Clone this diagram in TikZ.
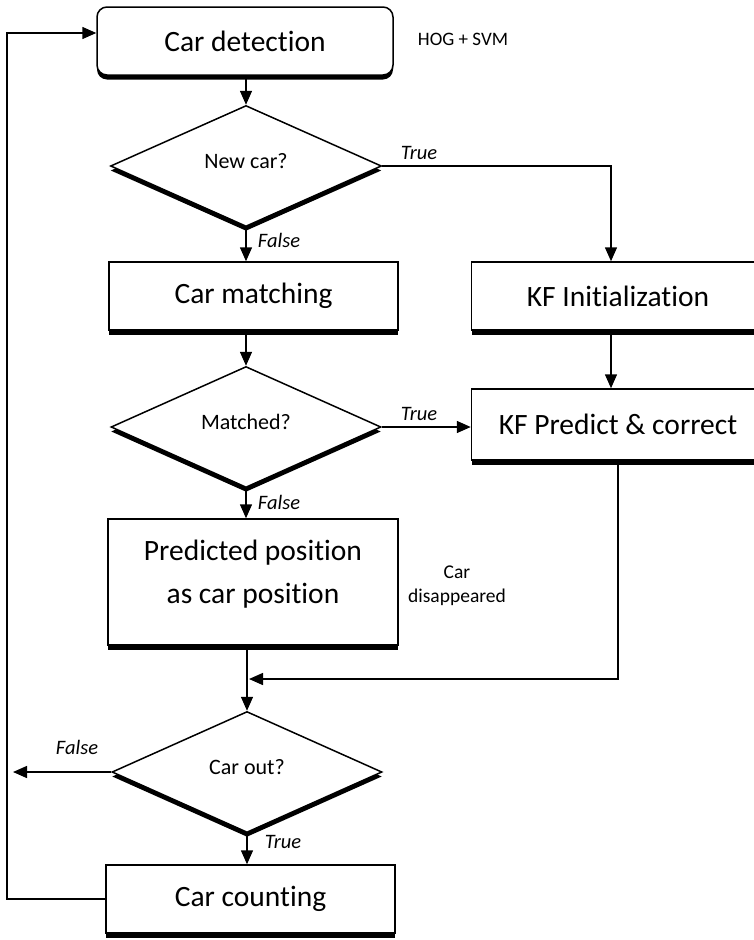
\documentclass[tikz,border=0pt]{standalone}
\usepackage{fontspec}
\setmainfont{Carlito}[Ligatures=NoCommon]
\usetikzlibrary{arrows.meta,shapes.geometric,shadows}
\tikzset{
  flow/.style={draw, line width=1.5pt, fill=white,
    drop shadow={shadow xshift=0pt, shadow yshift=-4.5pt, fill=black, opacity=1}},
  procbox/.style={flow, rectangle, minimum width=290pt, minimum height=68pt,
    inner sep=0pt, align=center, font=\fontsize{29.5}{43}\selectfont},
  startbox/.style={procbox, rounded corners=10pt},
  decide/.style={flow, diamond, minimum width=271pt, minimum height=121pt,
    inner sep=0pt, text depth=10pt, font=\fontsize{22}{26}\selectfont},
  wire/.style={line width=1.5pt},
  flowarrow/.style={wire, -{Triangle[length=14pt,width=12pt]}},
  branch/.style={font=\itshape\fontsize{20.5}{24}\selectfont},
  note/.style={align=center, font=\fontsize{19.5}{24}\selectfont}
}
\begin{document}
\begin{tikzpicture}[x=1pt,y=-1pt]
    \useasboundingbox (0,0) rectangle (754,940);
    % left column
    \node[startbox, minimum width=296pt] (det) at (245,41) {Car detection}; % detection
    \node[note, font=\fontsize{19}{22}\selectfont] (hog) at (463,39) {HOG + SVM}; % detector label
    \node[decide] (newcar) at (246,166) {New car?}; % first test
    \node[procbox, minimum width=289pt] (match) at (253.5,296) {Car matching};
    \node[decide, minimum width=270pt] (matched) at (246,427) {Matched?}; % second test
    \node[procbox, minimum height=126pt, text depth=20pt] (pred) at (253,582) {Predicted position\\as car position};
    \node[decide, minimum width=270pt] (carout) at (247,772) {Car out?}; % third test
    \node[procbox, minimum width=289pt] (count) at (250.5,899) {Car counting};
    % right column
    \node[procbox, minimum width=293pt] (kfinit) at (618,296) {KF Initialization};
    \node[procbox, minimum width=293pt, minimum height=71pt] (kfpc) at (618,424.5) {KF Predict \& correct};
    \node[note] (gone) at (457,586) {Car\\disappeared}; % lost track label
    % branch labels
    \node[branch] (yes1) at (419,153) {True};
    \node[branch] (no1) at (279,240) {False};
    \node[branch] (yes2) at (419,414) {True};
    \node[branch] (no2) at (279,502) {False};
    \node[branch] (no3) at (77,747) {False};
    \node[branch] (yes3) at (283,842) {True};
    % free ends
    \coordinate (join) at (249,679);
    \coordinate (lost) at (13,772);
    \coordinate (back) at (7,33);
    % connectors
    \draw[flowarrow] (det.south -| newcar.north) -- (newcar.north);
    \draw[flowarrow] (newcar.east) -| ([xshift=-7pt]kfinit.north);
    \draw[flowarrow] (newcar.south) -- (newcar.south |- match.north);
    \draw[flowarrow] (match.south -| matched.north) -- (matched.north);
    \draw[flowarrow] ([xshift=-7pt]kfinit.south) -- ([xshift=-7pt]kfpc.north);
    \draw[flowarrow] (matched.east) -- (matched.east -| kfpc.west);
    \draw[flowarrow] (matched.south) -- (matched.south |- pred.north);
    \draw[flowarrow] (pred.south -| carout.north) -- (carout.north);
    \draw[flowarrow] (kfpc.south) |- (join); % track lost
    \draw[flowarrow] (carout.south) -- (carout.south |- count.north);
    \draw[flowarrow] (carout.west) -- (lost);
    \draw[flowarrow] (count.west) -| (back) -- ([yshift=8pt]det.west); % next frame
\end{tikzpicture}
\end{document}
